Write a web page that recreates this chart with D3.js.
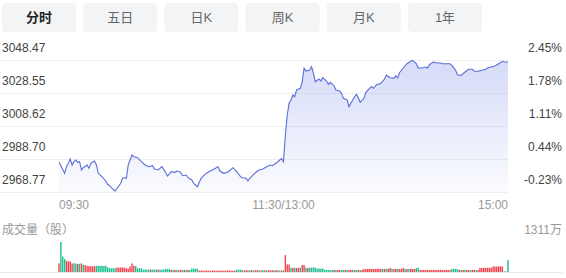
<!DOCTYPE html>
<html>
<head>
<meta charset="utf-8">
<script src="https://cdn.jsdelivr.net/npm/d3@7"></script>
<style>
  body { margin: 0; background: #fff; }
  text { font-family: Arial, "Liberation Sans", "Noto Sans CJK SC", sans-serif; }
</style>
</head>
<body>
<div id="chart"></div>
<script>
let width = 566
let height = 278

// tabs on top
let tabs = ['分时', '五日', '日K', '周K', '月K', '1年']

// price axis ticks (left) and change ticks (right)
let priceTicks = [3048.47, 3028.55, 3008.62, 2988.70, 2968.77]
let pctTicks = ['2.45%', '1.78%', '1.11%', '0.44%', '-0.23%']
let timeLabels = ['09:30', '11:30/13:00', '15:00']

// [minute index, price]
let pricePoints = [
  [0,2986.70],[1,2984.65],[3,2980.06],[4,2984.05],[5,2986.10],[6,2988.70],[7,2985.07],[8,2987.06],[9,2988.09],[10,2986.70],
  [11,2987.06],[12,2982.05],[13,2983.44],[15,2985.07],[16,2983.08],[17,2986.10],[19,2987.49],[20,2985.07],[21,2980.06],[23,2978.01],
  [25,2975.41],[26,2973.42],[27,2972.57],[28,2971.37],[30,2969.37],[31,2971.00],[33,2974.02],[34,2977.04],[35,2977.40],[36,2977.04],
  [37,2985.07],[39,2991.11],[40,2990.08],[42,2989.48],[44,2987.06],[46,2985.07],[48,2984.05],[50,2984.65],[51,2982.66],[53,2982.05],
  [55,2984.05],[57,2980.50],[58,2978.43],[60,2981.03],[62,2980.66],[63,2981.45],[65,2980.66],[66,2978.61],[68,2979.03],[69,2977.40],
  [71,2976.02],[72,2974.02],[74,2971.97],[75,2974.63],[76,2977.04],[78,2979.46],[80,2981.03],[82,2982.05],[83,2982.66],[85,2984.05],
  [86,2981.45],[88,2980.06],[90,2980.66],[91,2981.45],[93,2983.44],[95,2981.03],[97,2978.01],[98,2977.40],[100,2977.04],[101,2975.41],
  [102,2977.04],[104,2979.46],[106,2981.45],[107,2982.05],[109,2982.66],[111,2984.05],[113,2985.07],[114,2984.65],[116,2986.10],[118,2988.09],
  [119,2988.90],[120,2987.06],[121,3003.19],[122,3015.26],[123,3022.33],[124,3024.32],[125,3027.34],[126,3026.31],[127,3030.36],[129,3031.38],
  [130,3035.37],[131,3043.46],[132,3041.83],[134,3042.43],[135,3044.42],[136,3040.44],[137,3035.37],[139,3037.00],[140,3035.79],[141,3037.78],
  [143,3035.79],[144,3033.80],[145,3035.01],[147,3032.95],[148,3030.36],[150,3029.75],[151,3028.36],[152,3025.35],[154,3024.32],[155,3020.27],
  [156,3022.33],[158,3026.31],[159,3027.76],[160,3025.71],[161,3022.93],[163,3025.35],[164,3028.97],[166,3031.38],[167,3032.35],[168,3031.38],
  [170,3033.80],[171,3033.80],[172,3034.40],[174,3037.00],[175,3039.41],[177,3037.78],[179,3037.42],[180,3038.99],[181,3037.60],[182,3040.80],
  [184,3043.64],[186,3046.24],[188,3047.69],[189,3048.29],[191,3046.24],[192,3043.64],[194,3043.64],[196,3044.24],[197,3043.64],[198,3045.63],
  [200,3047.26],[202,3046.66],[204,3046.66],[205,3046.24],[207,3046.24],[209,3046.24],[210,3045.27],[212,3042.25],[213,3039.59],[215,3039.23],
  [217,3041.22],[219,3042.86],[221,3042.86],[222,3041.65],[224,3041.65],[226,3042.25],[228,3042.86],[229,3043.64],[231,3044.24],[233,3044.85],
  [235,3046.24],[237,3047.69],[238,3047.26],[240,3047.26]
]

// volume per minute (万股)
let volumes = [
  375,1311,675,570,495,465,465,375,380,375,
  345,360,375,315,300,270,255,255,250,255,
  270,270,265,270,260,270,200,165,160,165,
  165,195,190,195,200,190,160,150,240,375,
  270,260,165,160,165,105,110,100,105,105,
  105,100,110,105,100,105,110,135,130,135,
  90,85,95,90,80,90,95,85,90,90,
  85,150,150,145,140,60,65,55,60,60,
  60,55,60,65,60,55,60,60,55,60,
  60,65,55,60,60,100,105,105,75,70,
  75,70,80,75,70,75,80,70,75,75,
  70,80,75,70,75,80,75,70,60,65,
  70,740,330,330,180,185,180,175,180,185,
  300,300,180,175,185,195,195,190,150,150,
  145,150,90,95,90,85,90,90,95,90,
  85,90,95,90,85,90,95,90,85,90,
  90,85,95,135,130,135,140,135,130,135,
  135,140,135,130,135,140,135,180,135,130,
  135,140,130,135,180,135,130,135,140,135,
  130,180,185,90,90,85,90,95,90,85,
  90,90,85,90,95,90,85,90,90,85,
  135,140,135,130,90,85,90,95,90,85,
  90,95,90,85,90,180,175,180,185,180,
  185,190,240,245,240,250,245,240,30,25,
  525
]
// r = up, g = down
let volumeDir = (
  'rgggrrrrgg' + 'rgrgrrrrrr' + 'gggggggggg' + 'grrrrrrrrr' + 'rggggggggr' +
  'gggrgggggg' + 'rgrgrrgrgr' + 'gggggrrrrr' + 'rrrrrrrrrr' + 'rrrrrgggrg' +
  'rrgrgrrgrg' + 'rgrrrgrrgr' + 'grrrgrgrrg' + 'rrgrgggggg' + 'gggggggrgr' +
  'rggrgrrgrg' + 'rgrrrrrrrr' + 'rrrgrgrrgr' + 'rgrrrgrgrr' + 'rggrrrrrrr' +
  'rrrrrrrrrr' + 'ggggrgrgrr' + 'grrgrrrrrr' + 'rrrrrrrrgg' + 'g'
).split('')

let svg = d3.select('#chart').append('svg')
  .attr('width', width)
  .attr('height', height)

// tabs
let tabW = 74, tabGap = 7.2
let tabG = svg.append('g')
tabs.forEach((t, i) => {
  let x = 2 + i * (tabW + tabGap)
  tabG.append('rect')
    .attr('x', x).attr('y', 3)
    .attr('width', tabW).attr('height', 29)
    .attr('rx', 4)
    .attr('fill', '#f3f4f6')
  tabG.append('text')
    .attr('x', x + tabW / 2).attr('y', 22)
    .attr('text-anchor', 'middle')
    .attr('font-size', 13)
    .attr('font-weight', i == 0 ? 'bold' : 'normal')
    .attr('fill', i == 0 ? '#222' : '#666')
    .text(t)
})

let xScale = d3.scaleLinear()
  .domain([0, 240])
  .range([59, 508])

let yScale = d3.scaleLinear()
  .domain([2968.77, 3048.47])
  .range([192, 60])

let vScale = d3.scaleLinear()
  .domain([0, 1311])
  .range([272, 242])

// grid
svg.append('g').selectAll('line')
  .data(priceTicks)
  .enter().append('line')
  .attr('x1', 0).attr('x2', 508)
  .attr('y1', d => Math.round(yScale(d)) + 0.5)
  .attr('y2', d => Math.round(yScale(d)) + 0.5)
  .attr('stroke', '#efefef')

// gradient for area
let grad = svg.append('defs').append('linearGradient')
  .attr('id', 'areaGrad')
  .attr('gradientUnits', 'userSpaceOnUse')
  .attr('x1', 0).attr('y1', 60).attr('x2', 0).attr('y2', 192)
grad.append('stop').attr('offset', '0%').attr('stop-color', '#6b7fe6').attr('stop-opacity', 0.28)
grad.append('stop').attr('offset', '100%').attr('stop-color', '#6b7fe6').attr('stop-opacity', 0.03)

let area = d3.area()
  .x(d => xScale(d[0]))
  .y0(192)
  .y1(d => yScale(d[1]))

let line = d3.line()
  .x(d => xScale(d[0]))
  .y(d => yScale(d[1]))

svg.append('path')
  .datum(pricePoints)
  .attr('d', area)
  .attr('fill', 'url(#areaGrad)')

svg.append('path')
  .datum(pricePoints)
  .attr('d', line)
  .attr('fill', 'none')
  .attr('stroke', '#5b6dd8')
  .attr('stroke-width', 1.1)

// y labels
svg.append('g').selectAll('text')
  .data(priceTicks)
  .enter().append('text')
  .attr('x', 2)
  .attr('y', d => yScale(d) - 8)
  .attr('font-size', 12)
  .attr('fill', '#444')
  .text(d => d.toFixed(2))

svg.append('g').selectAll('text')
  .data(pctTicks)
  .enter().append('text')
  .attr('x', 562)
  .attr('y', (d, i) => yScale(priceTicks[i]) - 8)
  .attr('text-anchor', 'end')
  .attr('font-size', 12)
  .attr('fill', '#444')
  .text(d => d)

// time labels
let timeX = [xScale(0), xScale(120), xScale(240)]
let anchors = ['start', 'middle', 'end']
svg.append('g').selectAll('text')
  .data(timeLabels)
  .enter().append('text')
  .attr('x', (d, i) => timeX[i])
  .attr('y', 209)
  .attr('text-anchor', (d, i) => anchors[i])
  .attr('font-size', 12)
  .attr('fill', '#999')
  .text(d => d)

// volume
svg.append('text')
  .attr('x', 2).attr('y', 234)
  .attr('font-size', 12)
  .attr('fill', '#999')
  .text('成交量（股）')

svg.append('text')
  .attr('x', 562).attr('y', 234)
  .attr('text-anchor', 'end')
  .attr('font-size', 12)
  .attr('fill', '#999')
  .text(d3.max(volumes) + '万')

svg.append('line')
  .attr('x1', 0).attr('x2', 562)
  .attr('y1', 272.5).attr('y2', 272.5)
  .attr('stroke', '#e8e8e8')

svg.append('g').selectAll('rect')
  .data(volumes)
  .enter().append('rect')
  .attr('x', (d, i) => xScale(i) - 0.7)
  .attr('width', 1.4)
  .attr('y', d => vScale(d))
  .attr('height', d => vScale(0) - vScale(d))
  .attr('fill', (d, i) => volumeDir[i] == 'r' ? '#f2414b' : '#1dbf91')
</script>
</body>
